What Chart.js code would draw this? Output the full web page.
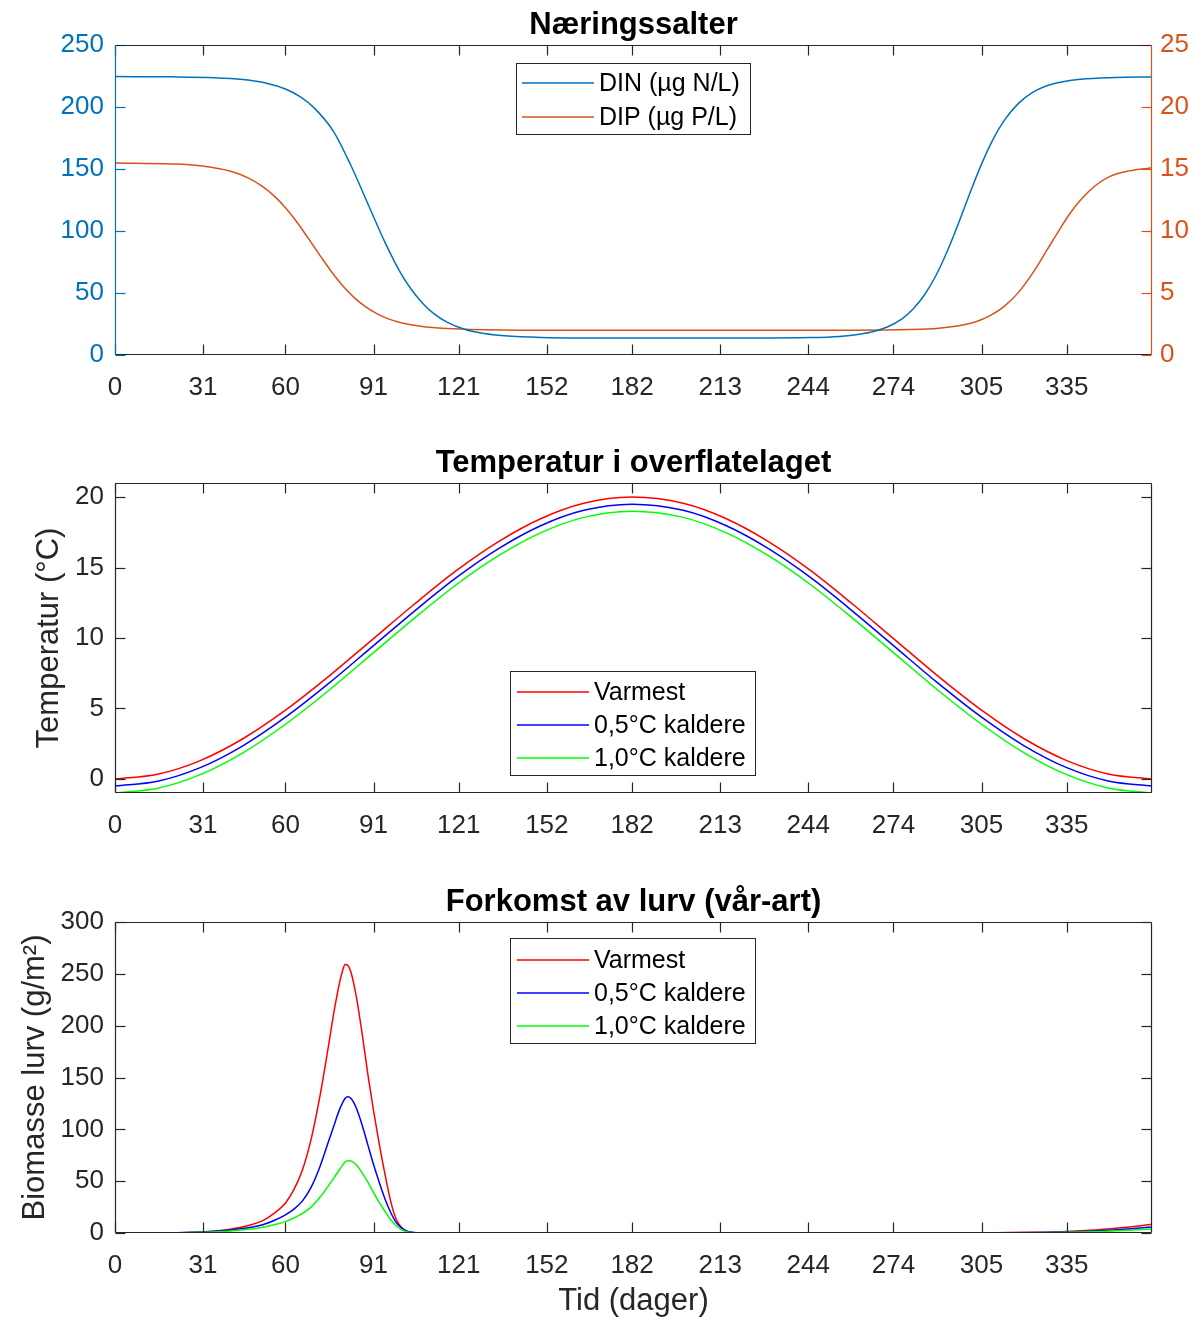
<!DOCTYPE html>
<html>
<head>
<meta charset="utf-8">
<title>Næringssalter, temperatur og lurv</title>
<script src="https://cdn.jsdelivr.net/npm/chart.js@4.4.1/dist/chart.umd.min.js"></script>
<style>
  body { margin: 0; background: #fff; }
  #wrap { position: relative; width: 1204px; height: 1320px; }
  canvas { position: absolute; left: 0; }
</style>
</head>
<body>
<div id="wrap">
  <canvas id="nutrient-chart" width="1204" height="420" style="top:0px"></canvas>
  <canvas id="temp-chart" width="1204" height="420" style="top:438px"></canvas>
  <canvas id="bio-chart" width="1204" height="443" style="top:877px"></canvas>
</div>
<script>
// shared x axis (day of year)
const xTicks = [0, 31, 60, 91, 121, 152, 182, 213, 244, 274, 305, 335];

// Næringssalter
const dinDays = [0, 20, 35, 45, 53, 60, 65, 70, 77, 83, 89, 95, 100, 104, 108, 112, 117, 123, 130, 137, 150, 182, 220, 245, 255, 262, 267, 272, 277, 281, 285, 289, 293, 297, 301, 305, 309, 313, 318, 323, 330, 340, 352, 365];
const dinValues = [224.5, 224.3, 223.6, 222.1, 219.4, 214.5, 208.5, 199.5, 180, 153, 122, 91, 68.3, 53.8, 42.4, 33.8, 26.3, 20.8, 17.3, 15.5, 14.2, 13.7, 13.75, 14.1, 15.0, 16.7, 18.9, 22.8, 29.2, 37.3, 48.8, 64.3, 84.1, 106.9, 131.1, 153.9, 173.7, 189.2, 202.9, 211.8, 218.5, 222.4, 223.8, 224.2];
const dipDays = [0, 20, 30, 41, 47, 52, 56, 60, 64, 68, 72, 76, 80, 84, 88, 92, 96, 101, 107, 115, 125, 150, 200, 260, 280, 290, 297, 303, 308, 313, 318, 323, 328, 332, 336, 340, 345, 350, 357, 365];
const dipValues = [15.49, 15.41, 15.26, 14.8, 14.27, 13.58, 12.83, 11.87, 10.72, 9.42, 8.08, 6.78, 5.63, 4.67, 3.92, 3.35, 2.93, 2.58, 2.33, 2.15, 2.06, 2.0, 2.0, 2.0, 2.05, 2.16, 2.36, 2.68, 3.17, 3.92, 5.05, 6.6, 8.45, 9.95, 11.37, 12.54, 13.65, 14.39, 14.85, 15.1];
const dinTicks = [0, 50, 100, 150, 200, 250];
const dipTicks = [0, 5, 10, 15, 20, 25];

// Temperatur i overflatelaget
const tempDays = [0, 15, 30, 45, 60, 75, 91, 105, 120, 135, 150, 165, 182, 200, 215, 230, 245, 260, 274, 290, 305, 320, 335, 350, 365];
const tempVarmest = [0, 0.33, 1.3, 2.85, 4.88, 7.24, 9.96, 12.34, 14.76, 16.84, 18.48, 19.56, 20, 19.56, 18.48, 16.84, 14.76, 12.34, 9.96, 7.24, 4.88, 2.85, 1.3, 0.33, 0];
const temp05 = [-0.5, -0.17, 0.8, 2.35, 4.38, 6.74, 9.46, 11.84, 14.26, 16.34, 17.98, 19.06, 19.5, 19.06, 17.98, 16.34, 14.26, 11.84, 9.46, 6.74, 4.38, 2.35, 0.8, -0.17, -0.5];
const temp10 = [-1, -0.67, 0.3, 1.85, 3.88, 6.24, 8.96, 11.34, 13.76, 15.84, 17.48, 18.56, 19, 18.56, 17.48, 15.84, 13.76, 11.34, 8.96, 6.24, 3.88, 1.85, 0.3, -0.67, -1];
const tempTicks = [0, 5, 10, 15, 20];

// Forkomst av lurv (vår-art)
const bioDays = [0, 15, 25, 31, 40, 48, 52, 56, 60, 63, 66, 69, 72, 75, 77, 79, 80, 81, 82, 83, 84, 85, 87, 89, 91, 93, 95, 97, 99, 101, 103, 106, 110, 150, 250, 290, 310, 325, 335, 345, 355, 365];
const bioVarmest = [0, 0.1, 0.5, 1.2, 3.5, 8, 12, 19, 29, 42, 61, 90, 130, 178, 212, 241, 252, 259, 258, 252, 241, 227, 192, 153, 118, 86, 57, 31, 13, 5, 1.5, 0.2, 0, 0, 0, 0.05, 0.2, 0.7, 1.5, 3, 5.2, 8.4];
const bio05 = [0, 0.1, 0.4, 1, 2.6, 5.5, 8, 12, 17.5, 23, 31, 44, 63, 87, 103, 119, 125, 130, 131.5, 130, 126, 120, 104, 85, 66, 49, 33, 20, 10, 4.5, 1.5, 0.2, 0, 0, 0, 0.05, 0.15, 0.5, 1.0, 2.0, 3.6, 5.8];
const bio10 = [0, 0.1, 0.3, 0.7, 1.8, 3.8, 5.5, 8, 11, 14.5, 19, 25, 34, 45, 53, 61, 65, 68.5, 70, 69.5, 68, 65.5, 58, 49, 39, 29.5, 21, 13, 7, 3, 1, 0.2, 0, 0, 0, 0.03, 0.1, 0.35, 0.7, 1.3, 2.4, 3.9];
const bioTicks = [0, 50, 100, 150, 200, 250, 300];

const font = "'Liberation Sans', Arial, Helvetica, sans-serif";
const axisColor = '#262626';
const dinColor = '#0072BD';
const dipColor = '#D95319';

function toPoints(days, values) {
    return days.map((d, i) => ({ x: d, y: values[i] }));
}

function line(label, days, values, color, extra) {
    return Object.assign({
        label: label,
        data: toPoints(days, values),
        borderColor: color,
        backgroundColor: color,
        borderWidth: 1.5,
        pointRadius: 0,
        cubicInterpolationMode: 'monotone',
        fill: false
    }, extra || {});
}

// MATLAB-like box with inward ticks on every side
const boxPlugin = {
    id: 'box',
    afterDatasetsDraw(chart, args, opts) {
        const ctx = chart.ctx;
        const a = chart.chartArea;
        const tick = 10;
        const left = Math.round(a.left) + 0.5;
        const right = Math.round(a.right) - 0.5;
        const top = Math.round(a.top) + 0.5;
        const bottom = Math.round(a.bottom) - 0.5;
        const lc = opts.leftColor || axisColor;
        const rc = opts.rightColor || axisColor;
        const seg = (color, x1, y1, x2, y2) => {
            ctx.strokeStyle = color;
            ctx.beginPath();
            ctx.moveTo(x1, y1);
            ctx.lineTo(x2, y2);
            ctx.stroke();
        };
        ctx.save();
        ctx.lineWidth = 1.2;
        const xs = chart.scales.x;
        xs.ticks.forEach(t => {
            const px = Math.round(xs.getPixelForValue(t.value)) + 0.5;
            seg(axisColor, px, bottom, px, bottom - tick);
            seg(axisColor, px, top, px, top + tick);
        });
        const yl = chart.scales.y;
        const yr = chart.scales.y1 || chart.scales.y;
        yl.ticks.forEach(t => {
            const py = Math.round(yl.getPixelForValue(t.value)) + 0.5;
            seg(lc, left, py, left + tick, py);
        });
        yr.ticks.forEach(t => {
            const py = Math.round(yr.getPixelForValue(t.value)) + 0.5;
            seg(rc, right, py, right - tick, py);
        });
        seg(axisColor, left, top, right, top);
        seg(axisColor, left, bottom, right, bottom);
        seg(lc, left, top, left, bottom);
        seg(rc, right, top, right, bottom);
        ctx.restore();
    }
};

// boxed legend inside the plot
const boxLegend = {
    id: 'boxLegend',
    afterDraw(chart, args, opts) {
        const ctx = chart.ctx;
        ctx.save();
        ctx.fillStyle = '#fff';
        ctx.fillRect(opts.left, opts.top, opts.width, opts.height);
        ctx.strokeStyle = axisColor;
        ctx.lineWidth = 1;
        ctx.strokeRect(opts.left + 0.5, opts.top + 0.5, opts.width, opts.height);
        ctx.font = '25px ' + font;
        ctx.textBaseline = 'middle';
        ctx.textAlign = 'left';
        chart.data.datasets.forEach((ds, i) => {
            const y = opts.top + opts.first + i * opts.gap;
            ctx.strokeStyle = ds.borderColor;
            ctx.lineWidth = ds.borderWidth;
            ctx.beginPath();
            ctx.moveTo(opts.left + opts.lineStart, y);
            ctx.lineTo(opts.left + opts.lineStart + 72, y);
            ctx.stroke();
            ctx.fillStyle = '#000';
            ctx.fillText(ds.label, opts.left + opts.lineStart + 77, y + 1);
        });
        ctx.restore();
    }
};

function xScale(height, title) {
    return {
        type: 'linear',
        min: 0,
        max: 365,
        afterBuildTicks: s => { s.ticks = xTicks.map(v => ({ value: v })); },
        afterFit: s => { s.height = height; },
        grid: { display: false, drawTicks: false },
        border: { display: false },
        ticks: { font: { family: font, size: 26 }, color: axisColor, padding: 17, maxRotation: 0, autoSkip: false, callback: v => String(v) },
        title: title ? { display: true, text: title, font: { family: font, size: 31 }, color: axisColor, padding: 0 } : { display: false }
    };
}

function yScale(position, min, max, tickValues, color, width, pad, title, titlePad) {
    return {
        type: 'linear',
        position: position,
        min: min,
        max: max,
        afterBuildTicks: s => { s.ticks = tickValues.map(v => ({ value: v })); },
        afterFit: s => { s.width = width; },
        grid: { display: false, drawTicks: false },
        border: { display: false },
        ticks: { font: { family: font, size: 26 }, color: color, padding: pad, callback: v => String(v) },
        title: title ? { display: true, text: title, font: { family: font, size: 31 }, color: axisColor, padding: { top: titlePad, bottom: 0 } } : { display: false }
    };
}

function titleOpts(text) {
    return {
        display: true,
        text: text,
        fullSize: false,
        color: '#000',
        font: { family: font, size: 31, weight: 'bold' },
        padding: { top: 7, bottom: 0.8 }
    };
}

const common = {
    responsive: false,
    animation: false,
    devicePixelRatio: 1,
    events: []
};

// Næringssalter
new Chart(document.querySelector('#nutrient-chart').getContext('2d'), {
    type: 'line',
    data: {
        datasets: [
            line('DIN (µg N/L)', dinDays, dinValues, dinColor, { yAxisID: 'y' }),
            line('DIP (µg P/L)', dipDays, dipValues, dipColor, { yAxisID: 'y1' })
        ]
    },
    options: Object.assign({}, common, {
        layout: { padding: 0 },
        scales: {
            x: xScale(65),
            y: yScale('left', 0, 250, dinTicks, dinColor, 115, 11),
            y1: yScale('right', 0, 25, dipTicks, dipColor, 52, 8)
        },
        plugins: {
            title: titleOpts('Næringssalter'),
            legend: { display: false },
            tooltip: { enabled: false },
            box: { leftColor: dinColor, rightColor: dipColor },
            boxLegend: { left: 516, top: 63, width: 234, height: 71, first: 20, gap: 34, lineStart: 6 }
        }
    }),
    plugins: [boxPlugin, boxLegend]
});

// Temperatur i overflatelaget
new Chart(document.querySelector('#temp-chart').getContext('2d'), {
    type: 'line',
    data: {
        datasets: [
            line('Varmest', tempDays, tempVarmest, '#FF0000', { order: 3 }),
            line('0,5°C kaldere', tempDays, temp05, '#0000FF', { order: 2 }),
            line('1,0°C kaldere', tempDays, temp10, '#00FF00', { order: 1 })
        ]
    },
    options: Object.assign({}, common, {
        layout: { padding: { right: 52 } },
        scales: {
            x: xScale(65),
            y: yScale('left', -1, 21, tempTicks, axisColor, 115, 11, 'Temperatur (°C)', 30.4)
        },
        plugins: {
            title: titleOpts('Temperatur i overflatelaget'),
            legend: { display: false },
            tooltip: { enabled: false },
            box: {},
            boxLegend: { left: 510, top: 233, width: 245, height: 104, first: 21, gap: 33, lineStart: 7 }
        }
    }),
    plugins: [boxPlugin, boxLegend]
});

// Forkomst av lurv (vår-art)
new Chart(document.querySelector('#bio-chart').getContext('2d'), {
    type: 'line',
    data: {
        datasets: [
            line('Varmest', bioDays, bioVarmest, '#FF0000', { order: 3 }),
            line('0,5°C kaldere', bioDays, bio05, '#0000FF', { order: 2 }),
            line('1,0°C kaldere', bioDays, bio10, '#00FF00', { order: 1 })
        ]
    },
    options: Object.assign({}, common, {
        layout: { padding: { right: 52 } },
        scales: {
            x: xScale(87, 'Tid (dager)'),
            y: yScale('left', 0, 300, bioTicks, axisColor, 115, 11, 'Biomasse lurv (g/m²)', 16.4)
        },
        plugins: {
            title: titleOpts('Forkomst av lurv (vår-art)'),
            legend: { display: false },
            tooltip: { enabled: false },
            box: {},
            boxLegend: { left: 510, top: 61, width: 245, height: 105, first: 22, gap: 33, lineStart: 7 }
        }
    }),
    plugins: [boxPlugin, boxLegend]
});
</script>
</body>
</html>
